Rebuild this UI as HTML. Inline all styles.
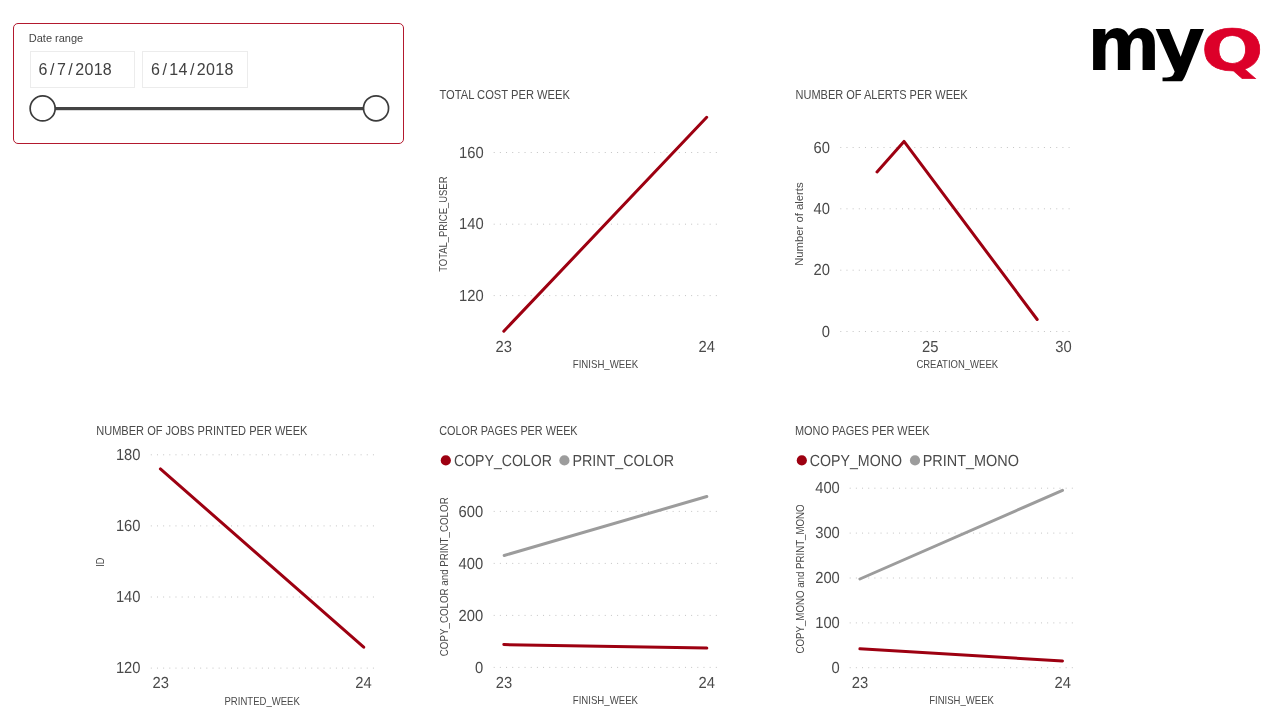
<!DOCTYPE html>
<html lang="en">
<head>
<meta charset="utf-8">
<title>MyQ report</title>
<style>
html,body{margin:0;padding:0;background:#fff;}
body{width:1281px;height:726px;position:relative;overflow:hidden;font-family:"Liberation Sans",Arial,sans-serif;color:#4a4a4a;}
#slicer{position:absolute;left:13px;top:23px;width:391px;height:121px;box-sizing:border-box;border:1px solid #b3192e;border-radius:5px;background:#fff;}
#slicer .lbl{position:absolute;left:14.8px;top:7px;font-size:11px;line-height:14px;letter-spacing:0px;color:#444;white-space:nowrap;}
#slicer .inp{position:absolute;top:27px;height:37px;box-sizing:border-box;border:1px solid #ececec;background:#fff;font-size:16px;line-height:35px;color:#404040;letter-spacing:0.3px;white-space:nowrap;}
#slicer .inp span{padding:0 2.2px;}
#slicer .i1{left:16px;width:105px;padding-left:7.6px;}
#slicer .i2{left:128px;width:106px;padding-left:8px;}
#charts{position:absolute;left:0;top:0;}
#charts text{font-family:"Liberation Sans",Arial,sans-serif;fill:#4a4a4a;}
#charts .tk{font-size:16px;text-rendering:geometricPrecision;}
#charts .lg{text-rendering:geometricPrecision;}
#charts .g{stroke:#c4c4c4;stroke-width:1;stroke-dasharray:1 5.17;}
#logo{position:absolute;left:1080px;top:0;}
</style>
</head>
<body>
<div id="slicer">
  <div class="lbl">Date range</div>
  <div class="inp i1">6<span>/</span>7<span>/</span>2018</div>
  <div class="inp i2">6<span>/</span>14<span>/</span>2018</div>
</div>
<svg id="charts" width="1281" height="726" viewBox="0 0 1281 726">
<rect x="50" y="107" width="320" height="3.2" fill="#444"/>
<circle cx="42.65" cy="108.4" r="12.5" fill="#fff" stroke="#3c3c3c" stroke-width="1.7"/>
<circle cx="376.05" cy="108.3" r="12.5" fill="#fff" stroke="#3c3c3c" stroke-width="1.7"/>
<text x="439.5" y="99.0" font-size="12" textLength="130.4" lengthAdjust="spacingAndGlyphs">TOTAL COST PER WEEK</text>
<line class="g" x1="493.7" x2="718.0" y1="152.5" y2="152.5"/>
<text class="tk" x="459.0" y="157.7" textLength="24.6" lengthAdjust="spacingAndGlyphs">160</text>
<line class="g" x1="493.7" x2="718.0" y1="224.2" y2="224.2"/>
<text class="tk" x="459.0" y="229.4" textLength="24.6" lengthAdjust="spacingAndGlyphs">140</text>
<line class="g" x1="493.7" x2="718.0" y1="295.6" y2="295.6"/>
<text class="tk" x="459.0" y="300.8" textLength="24.6" lengthAdjust="spacingAndGlyphs">120</text>
<polyline points="503.8,331.2 706.7,117.3" fill="none" stroke="#9d0011" stroke-width="3" stroke-linecap="round" stroke-linejoin="round"/>
<text class="tk" x="495.6" y="351.8" textLength="16.4" lengthAdjust="spacingAndGlyphs">23</text>
<text class="tk" x="698.5" y="351.8" textLength="16.4" lengthAdjust="spacingAndGlyphs">24</text>
<text x="572.8" y="367.5" font-size="11" textLength="65.3" lengthAdjust="spacingAndGlyphs">FINISH_WEEK</text>
<text transform="translate(447.4 271.8) rotate(-90)" x="0" y="0" font-size="11" textLength="95.3" lengthAdjust="spacingAndGlyphs">TOTAL_PRICE_USER</text>
<text x="795.5" y="99.0" font-size="12" textLength="172.2" lengthAdjust="spacingAndGlyphs">NUMBER OF ALERTS PER WEEK</text>
<line class="g" x1="840.3" x2="1070.0" y1="147.5" y2="147.5"/>
<text class="tk" x="813.6" y="152.7" textLength="16.4" lengthAdjust="spacingAndGlyphs">60</text>
<line class="g" x1="840.3" x2="1070.0" y1="208.8" y2="208.8"/>
<text class="tk" x="813.6" y="214.0" textLength="16.4" lengthAdjust="spacingAndGlyphs">40</text>
<line class="g" x1="840.3" x2="1070.0" y1="270.2" y2="270.2"/>
<text class="tk" x="813.6" y="275.4" textLength="16.4" lengthAdjust="spacingAndGlyphs">20</text>
<line class="g" x1="840.3" x2="1070.0" y1="331.5" y2="331.5"/>
<text class="tk" x="821.8" y="336.7" textLength="8.2" lengthAdjust="spacingAndGlyphs">0</text>
<polyline points="877.0,172.0 904.0,141.4 1037.2,319.5" fill="none" stroke="#9d0011" stroke-width="3" stroke-linecap="round" stroke-linejoin="round"/>
<text class="tk" x="922.0" y="351.8" textLength="16.4" lengthAdjust="spacingAndGlyphs">25</text>
<text class="tk" x="1055.2" y="351.8" textLength="16.4" lengthAdjust="spacingAndGlyphs">30</text>
<text x="916.4" y="367.8" font-size="11" textLength="81.7" lengthAdjust="spacingAndGlyphs">CREATION_WEEK</text>
<text transform="translate(803.3 265.8) rotate(-90)" x="0" y="0" font-size="11" textLength="83.4" lengthAdjust="spacingAndGlyphs">Number of alerts</text>
<text x="96.2" y="434.9" font-size="12" textLength="211.3" lengthAdjust="spacingAndGlyphs">NUMBER OF JOBS PRINTED PER WEEK</text>
<line class="g" x1="150.8" x2="375.0" y1="454.8" y2="454.8"/>
<text class="tk" x="115.9" y="460.0" textLength="24.6" lengthAdjust="spacingAndGlyphs">180</text>
<line class="g" x1="150.8" x2="375.0" y1="525.9" y2="525.9"/>
<text class="tk" x="115.9" y="531.1" textLength="24.6" lengthAdjust="spacingAndGlyphs">160</text>
<line class="g" x1="150.8" x2="375.0" y1="597.0" y2="597.0"/>
<text class="tk" x="115.9" y="602.2" textLength="24.6" lengthAdjust="spacingAndGlyphs">140</text>
<line class="g" x1="150.8" x2="375.0" y1="668.1" y2="668.1"/>
<text class="tk" x="115.9" y="673.3" textLength="24.6" lengthAdjust="spacingAndGlyphs">120</text>
<polyline points="160.4,468.9 363.7,647.2" fill="none" stroke="#9d0011" stroke-width="3" stroke-linecap="round" stroke-linejoin="round"/>
<text class="tk" x="152.6" y="688.3" textLength="16.4" lengthAdjust="spacingAndGlyphs">23</text>
<text class="tk" x="355.2" y="688.3" textLength="16.4" lengthAdjust="spacingAndGlyphs">24</text>
<text x="224.5" y="704.6" font-size="11" textLength="75.3" lengthAdjust="spacingAndGlyphs">PRINTED_WEEK</text>
<text transform="translate(104.1 566.7) rotate(-90)" x="0" y="0" font-size="11" textLength="9.2" lengthAdjust="spacingAndGlyphs">ID</text>
<text x="439.3" y="434.9" font-size="12" textLength="138.3" lengthAdjust="spacingAndGlyphs">COLOR PAGES PER WEEK</text>
<circle cx="445.8" cy="460.4" r="5.1" fill="#9d0011"/>
<text x="454.0" y="465.9" font-size="16" textLength="97.8" lengthAdjust="spacingAndGlyphs" class="lg">COPY_COLOR</text>
<circle cx="564.4" cy="460.4" r="5.1" fill="#9c9c9c"/>
<text x="572.4" y="465.9" font-size="16" textLength="101.7" lengthAdjust="spacingAndGlyphs" class="lg">PRINT_COLOR</text>
<line class="g" x1="493.7" x2="718.0" y1="511.4" y2="511.4"/>
<text class="tk" x="458.6" y="516.6" textLength="24.6" lengthAdjust="spacingAndGlyphs">600</text>
<line class="g" x1="493.7" x2="718.0" y1="563.4" y2="563.4"/>
<text class="tk" x="458.6" y="568.6" textLength="24.6" lengthAdjust="spacingAndGlyphs">400</text>
<line class="g" x1="493.7" x2="718.0" y1="615.4" y2="615.4"/>
<text class="tk" x="458.6" y="620.6" textLength="24.6" lengthAdjust="spacingAndGlyphs">200</text>
<line class="g" x1="493.7" x2="718.0" y1="667.4" y2="667.4"/>
<text class="tk" x="475.0" y="672.6" textLength="8.2" lengthAdjust="spacingAndGlyphs">0</text>
<polyline points="504.2,555.5 706.8,496.5" fill="none" stroke="#9c9c9c" stroke-width="3" stroke-linecap="round" stroke-linejoin="round"/>
<polyline points="503.8,644.6 706.8,648.1" fill="none" stroke="#9d0011" stroke-width="3" stroke-linecap="round" stroke-linejoin="round"/>
<text class="tk" x="495.7" y="688.2" textLength="16.4" lengthAdjust="spacingAndGlyphs">23</text>
<text class="tk" x="698.5" y="688.2" textLength="16.4" lengthAdjust="spacingAndGlyphs">24</text>
<text x="572.8" y="704.4" font-size="11" textLength="65.2" lengthAdjust="spacingAndGlyphs">FINISH_WEEK</text>
<text transform="translate(447.5 656.2) rotate(-90)" x="0" y="0" font-size="11" textLength="158.9" lengthAdjust="spacingAndGlyphs">COPY_COLOR and PRINT_COLOR</text>
<text x="795.0" y="434.9" font-size="12" textLength="134.5" lengthAdjust="spacingAndGlyphs">MONO PAGES PER WEEK</text>
<circle cx="801.8" cy="460.4" r="5.1" fill="#9d0011"/>
<text x="809.8" y="465.9" font-size="16" textLength="92.1" lengthAdjust="spacingAndGlyphs" class="lg">COPY_MONO</text>
<circle cx="915" cy="460.4" r="5.1" fill="#9c9c9c"/>
<text x="922.7" y="465.9" font-size="16" textLength="96.3" lengthAdjust="spacingAndGlyphs" class="lg">PRINT_MONO</text>
<line class="g" x1="849.7" x2="1074.0" y1="488.2" y2="488.2"/>
<text class="tk" x="815.2" y="493.4" textLength="24.6" lengthAdjust="spacingAndGlyphs">400</text>
<line class="g" x1="849.7" x2="1074.0" y1="533.1" y2="533.1"/>
<text class="tk" x="815.2" y="538.3" textLength="24.6" lengthAdjust="spacingAndGlyphs">300</text>
<line class="g" x1="849.7" x2="1074.0" y1="578.0" y2="578.0"/>
<text class="tk" x="815.2" y="583.2" textLength="24.6" lengthAdjust="spacingAndGlyphs">200</text>
<line class="g" x1="849.7" x2="1074.0" y1="622.9" y2="622.9"/>
<text class="tk" x="815.2" y="628.1" textLength="24.6" lengthAdjust="spacingAndGlyphs">100</text>
<line class="g" x1="849.7" x2="1074.0" y1="667.7" y2="667.7"/>
<text class="tk" x="831.6" y="672.9" textLength="8.2" lengthAdjust="spacingAndGlyphs">0</text>
<polyline points="859.9,579.0 1062.5,490.4" fill="none" stroke="#9c9c9c" stroke-width="3" stroke-linecap="round" stroke-linejoin="round"/>
<polyline points="859.9,648.8 1062.5,661.0" fill="none" stroke="#9d0011" stroke-width="3" stroke-linecap="round" stroke-linejoin="round"/>
<text class="tk" x="851.8" y="688.2" textLength="16.4" lengthAdjust="spacingAndGlyphs">23</text>
<text class="tk" x="1054.5" y="688.2" textLength="16.4" lengthAdjust="spacingAndGlyphs">24</text>
<text x="929.2" y="704.4" font-size="11" textLength="64.7" lengthAdjust="spacingAndGlyphs">FINISH_WEEK</text>
<text transform="translate(803.5 653.5) rotate(-90)" x="0" y="0" font-size="11" textLength="149.1" lengthAdjust="spacingAndGlyphs">COPY_MONO and PRINT_MONO</text>
</svg>
<svg id="logo" width="201" height="100" viewBox="1080 0 201 100">
<defs><clipPath id="lc"><rect x="1080" y="0" width="201" height="81.3"/></clipPath></defs>
<g clip-path="url(#lc)" font-family="DejaVu Sans, Liberation Sans, sans-serif" font-weight="bold">
<text transform="translate(1093 70) scale(0.95 1)" x="-6.1" y="0" font-size="74" fill="#000">m</text>
<text transform="translate(1155.7 70) scale(1.05 1)" x="-0.9" y="0" font-size="74" fill="#000">y</text>
<text transform="translate(1204.7 71.2) scale(1.3 1)" x="-2.8" y="0" font-size="56.5" fill="#dc0029" stroke="#dc0029" stroke-width="0.6">Q</text>
</g>
</svg>
</body>
</html>
